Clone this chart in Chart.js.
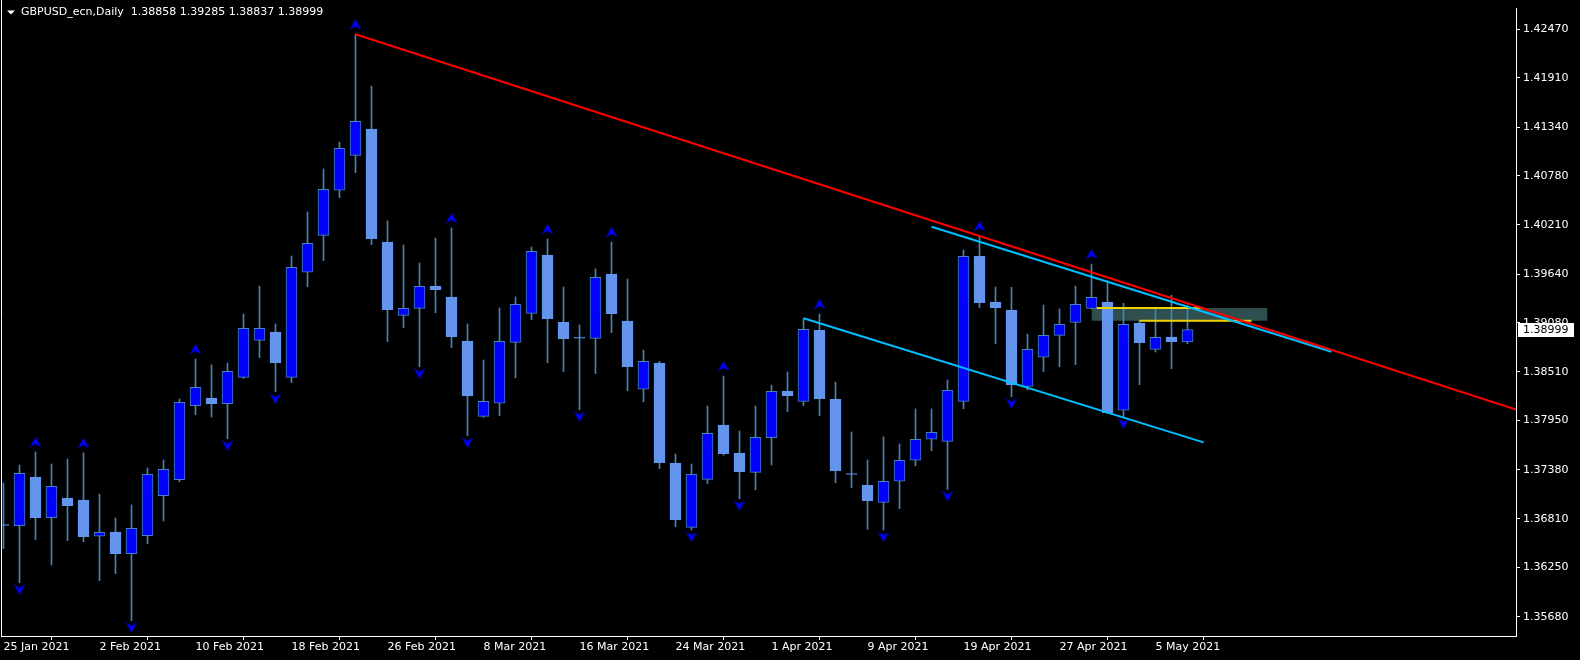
<!DOCTYPE html>
<html>
<head>
<meta charset="utf-8">
<title>GBPUSD_ecn,Daily</title>
<script src="https://cdn.jsdelivr.net/npm/chart.js@4.4.0/dist/chart.umd.min.js"></script>
<style>
  html, body { margin: 0; padding: 0; background: #000; }
  #wrap { width: 1580px; height: 660px; position: relative; }
</style>
</head>
<body>
<div id="wrap"><canvas id="myChart"></canvas></div>
<script>
const symbol = 'GBPUSD_ecn,Daily';

// daily bars, 25 Jan 2021 .. 7 May 2021
const opens = [
  1.36737, 1.36732, 1.37296, 1.36825, 1.37053, 1.37030, 1.36610, 1.36660, 1.36409, 1.36617,
  1.37079, 1.37264, 1.38120, 1.38209, 1.38145, 1.38448, 1.38876, 1.38972, 1.38448, 1.39663,
  1.40090, 1.40611, 1.41015, 1.41320, 1.40013, 1.39165, 1.39246, 1.39504, 1.39377, 1.38868,
  1.37997, 1.38148, 1.38853, 1.39188, 1.39863, 1.39084, 1.38905, 1.38899, 1.39643, 1.39099,
  1.38310, 1.38614, 1.37457, 1.36714, 1.37269, 1.37897, 1.37573, 1.37350, 1.37750, 1.38290,
  1.38171, 1.38992, 1.38194, 1.37329, 1.37200, 1.37003, 1.37246, 1.37489, 1.37732, 1.37708,
  1.38171, 1.39848, 1.39317, 1.39227, 1.38344, 1.38680, 1.38934, 1.39084, 1.39246, 1.39319,
  1.38067, 1.39076, 1.38772, 1.38914, 1.38858
];
const highs = [
  1.37226, 1.37434, 1.37585, 1.37446, 1.37504, 1.37573, 1.37099, 1.36822, 1.36972, 1.37400,
  1.37492, 1.38198, 1.38660, 1.38591, 1.38614, 1.39180, 1.39504, 1.39065, 1.39851, 1.40360,
  1.40857, 1.41169, 1.42415, 1.41817, 1.40256, 1.39978, 1.39770, 1.40059, 1.40175, 1.39065,
  1.38648, 1.39250, 1.39377, 1.39955, 1.40048, 1.39493, 1.39053, 1.39701, 1.40013, 1.39585,
  1.38764, 1.38633, 1.37562, 1.37446, 1.38117, 1.38463, 1.37827, 1.38117, 1.38359, 1.38510,
  1.39126, 1.39180, 1.38394, 1.37816, 1.37492, 1.37758, 1.37677, 1.38082, 1.38082, 1.38417,
  1.39920, 1.40082, 1.39493, 1.39489, 1.38949, 1.39284, 1.39238, 1.39504, 1.39758, 1.39565,
  1.39304, 1.39108, 1.39261, 1.39397, 1.39285
];
const lows = [
  1.36467, 1.36073, 1.36571, 1.36278, 1.36559, 1.36547, 1.36097, 1.36177, 1.35634, 1.36524,
  1.36787, 1.37241, 1.38016, 1.37989, 1.37738, 1.38435, 1.38675, 1.38282, 1.38386, 1.39496,
  1.39797, 1.40525, 1.40814, 1.39982, 1.38860, 1.39022, 1.38571, 1.39195, 1.38791, 1.37773,
  1.37986, 1.38004, 1.38444, 1.39114, 1.38617, 1.38513, 1.38074, 1.38490, 1.38964, 1.38293,
  1.38166, 1.37392, 1.36721, 1.36683, 1.37218, 1.37547, 1.37045, 1.37149, 1.37434, 1.38051,
  1.38120, 1.38004, 1.37230, 1.37172, 1.36691, 1.36683, 1.36929, 1.37426, 1.37600, 1.37153,
  1.38085, 1.39253, 1.38837, 1.38224, 1.38302, 1.38513, 1.38571, 1.38594, 1.39238, 1.38030,
  1.37993, 1.38363, 1.38741, 1.38548, 1.38837
];
const closes = [
  1.36735, 1.37338, 1.36825, 1.37188, 1.36964, 1.36605, 1.36656, 1.36409, 1.36702, 1.37327,
  1.37385, 1.38159, 1.38333, 1.38143, 1.38519, 1.39015, 1.39015, 1.38617, 1.39720, 1.39998,
  1.40622, 1.41096, 1.41409, 1.40051, 1.39230, 1.39246, 1.39501, 1.39461, 1.38918, 1.38232,
  1.38171, 1.38865, 1.39292, 1.39905, 1.39126, 1.38895, 1.38900, 1.39605, 1.39184, 1.38571,
  1.38633, 1.37461, 1.36802, 1.37327, 1.37801, 1.37565, 1.37357, 1.37755, 1.38286, 1.38236,
  1.39003, 1.38201, 1.37368, 1.37325, 1.37022, 1.37246, 1.37489, 1.37732, 1.37812, 1.38298,
  1.39848, 1.39311, 1.39253, 1.38359, 1.38772, 1.38934, 1.39061, 1.39292, 1.39373, 1.38039,
  1.39061, 1.38848, 1.38911, 1.38860, 1.38999
];

const xTickBars = [0, 6, 12, 18, 24, 30, 36, 42, 48, 54, 60, 66, 72];
const xTickLabels = ['25 Jan 2021', '2 Feb 2021', '10 Feb 2021', '18 Feb 2021', '26 Feb 2021',
  '8 Mar 2021', '16 Mar 2021', '24 Mar 2021', '1 Apr 2021', '9 Apr 2021', '19 Apr 2021',
  '27 Apr 2021', '5 May 2021'];
const yTickValues = [1.42470, 1.41910, 1.41340, 1.40780, 1.40210, 1.39640, 1.39080,
  1.38510, 1.37950, 1.37380, 1.36810, 1.36250, 1.35680];

const fractalUpBars = [2, 5, 12, 22, 28, 34, 38, 45, 51, 61, 68];
const fractalDownBars = [1, 8, 14, 17, 26, 29, 36, 43, 46, 55, 59, 63, 70];

// objects drawn on the chart (bar index, price)
const redLineBars = [22, 61];
const redLinePrices = [1.42415, 1.40082];
const cyanUpperBars = [58, 83];
const cyanUpperPrices = [1.40190, 1.38744];
const cyanLowerBars = [50, 75];
const cyanLowerPrices = [1.39131, 1.37696];
const zoneBars = [68, 79];
const zonePrices = [1.39250, 1.39103];
const yellowUpperBars = [68.33, 75];
const yellowLowerBars = [71, 78];

const xMin = -0.15625, xMax = 94.53125;
const yMin = 1.35457, yMax = 1.42719;

const bullColor = '#0000ff';
const bearColor = '#6495ed';
const wickColor = '#4682b4';

const last = closes.length - 1;

// ray: extend red line to the right edge
const redSlope = (redLinePrices[1] - redLinePrices[0]) / (redLineBars[1] - redLineBars[0]);
const redEnd = redLinePrices[0] + redSlope * (xMax - redLineBars[0]);

function arrowImage(up) {
  const c = document.createElement('canvas');
  c.width = 15; c.height = 40;
  const g = c.getContext('2d');
  const cx = 7.5, cy = up ? 10 : 27;
  g.beginPath();
  if (up) {
    g.moveTo(cx, cy - 5); g.lineTo(cx + 5.5, cy + 5); g.lineTo(cx, cy + 2); g.lineTo(cx - 5.5, cy + 5);
  } else {
    g.moveTo(cx, cy + 5); g.lineTo(cx + 5.5, cy - 5); g.lineTo(cx, cy - 2); g.lineTo(cx - 5.5, cy - 5);
  }
  g.closePath();
  g.fillStyle = '#0000ff';
  g.fill();
  g.strokeStyle = '#000080';
  g.lineWidth = 1;
  g.stroke();
  return c;
}
const upArrow = arrowImage(true);
const downArrow = arrowImage(false);

const isBull = i => closes[i] >= opens[i];

const lineDs = (bars, prices, color, width) => ({
  type: 'line',
  data: bars.map((b, k) => ({ x: b, y: prices[k] })),
  borderColor: color,
  borderWidth: width,
  pointRadius: 0,
  fill: false,
  order: 0
});

const data = {
  datasets: [
    lineDs(redLineBars.concat([xMax]), redLinePrices.concat([redEnd]), '#ff0000', 2),
    lineDs(cyanUpperBars, cyanUpperPrices, '#00bfff', 2),
    lineDs(cyanLowerBars, cyanLowerPrices, '#00bfff', 2),
    lineDs(yellowUpperBars, [zonePrices[0], zonePrices[0]], '#f0d400', 2),
    lineDs(yellowLowerBars, [zonePrices[1], zonePrices[1]], '#f0d400', 2),
    {
      type: 'scatter',
      data: fractalUpBars.map(i => ({ x: i, y: highs[i] })),
      pointStyle: upArrow,
      order: 1
    },
    {
      type: 'scatter',
      data: fractalDownBars.map(i => ({ x: i, y: lows[i] })),
      pointStyle: downArrow,
      order: 1
    },
    {
      type: 'bar',
      data: opens.map((o, i) => ({ x: i, y: [o, closes[i]] })),
      backgroundColor: c => isBull(c.dataIndex) ? bullColor : bearColor,
      borderColor: c => isBull(c.dataIndex) ? wickColor : bearColor,
      borderWidth: 1,
      borderSkipped: false,
      barThickness: 11,
      minBarLength: 1,
      grouped: false,
      clip: 0,
      order: 2
    },
    {
      type: 'bar',
      data: lows.map((l, i) => ({ x: i, y: [l, highs[i]] })),
      backgroundColor: wickColor,
      borderWidth: 0,
      barThickness: 1,
      grouped: false,
      clip: 0,
      order: 3
    },
    {
      type: 'line',
      data: zoneBars.map(b => ({ x: b, y: zonePrices[0] })),
      borderWidth: 0,
      pointRadius: 0,
      fill: false,
      order: 5
    },
    {
      type: 'line',
      data: zoneBars.map(b => ({ x: b, y: zonePrices[1] })),
      borderWidth: 0,
      pointRadius: 0,
      backgroundColor: '#2f4f4f',
      fill: '-1',
      order: 4
    }
  ]
};

const chartDecor = {
  id: 'chartDecor',
  afterDraw(chart) {
    const ctx = chart.ctx;
    const area = chart.chartArea;
    ctx.save();
    // left frame line
    ctx.strokeStyle = '#ffffff';
    ctx.lineWidth = 1;
    ctx.beginPath();
    ctx.moveTo(1.5, 0);
    ctx.lineTo(1.5, area.bottom + 0.5);
    ctx.stroke();

    // header
    ctx.fillStyle = '#ffffff';
    ctx.beginPath();
    ctx.moveTo(7, 10.5); ctx.lineTo(15, 10.5); ctx.lineTo(11, 14.5);
    ctx.closePath();
    ctx.fill();
    ctx.font = '11px "DejaVu Sans"';
    ctx.textBaseline = 'middle';
    ctx.textAlign = 'left';
    const f = v => v.toFixed(5);
    ctx.fillText(symbol + '  ' + f(opens[last]) + ' ' + f(highs[last]) + ' ' +
      f(lows[last]) + ' ' + f(closes[last]), 21, 12.5);

    // current price label
    const y = Math.round(chart.scales.y.getPixelForValue(closes[last]));
    ctx.fillStyle = '#ffffff';
    ctx.fillRect(area.right + 2, y - 7, 56, 14);
    ctx.fillStyle = '#000000';
    ctx.fillText(f(closes[last]), area.right + 7, y + 0.5);
    ctx.restore();
  }
};

const config = {
  type: 'bar',
  data: data,
  options: {
    responsive: true,
    maintainAspectRatio: false,
    animation: false,
    events: [],
    layout: { autoPadding: false, padding: { left: 1, top: 8, right: 0, bottom: 0 } },
    plugins: {
      legend: { display: false },
      tooltip: { enabled: false },
      title: { display: false }
    },
    scales: {
      x: {
        type: 'linear',
        min: xMin,
        max: xMax,
        offset: false,
        grid: { display: true, drawOnChartArea: false, drawTicks: true, tickLength: 4, color: '#ffffff' },
        border: { display: true, color: '#ffffff' },
        afterBuildTicks: s => { s.ticks = xTickBars.map(v => ({ value: v })); },
        afterFit: s => { s.height = 24; s.paddingLeft = 0; s.paddingRight = 0; },
        ticks: {
          autoSkip: false,
          maxRotation: 0,
          align: 'start',
          padding: 1,
          color: '#ffffff',
          font: { family: 'DejaVu Sans', size: 11 },
          callback: v => xTickLabels[xTickBars.indexOf(v)]
        }
      },
      y: {
        type: 'linear',
        position: 'right',
        min: yMin,
        max: yMax,
        grid: { display: true, drawOnChartArea: false, drawTicks: true, tickLength: 4, color: '#ffffff' },
        border: { display: true, color: '#ffffff' },
        afterBuildTicks: s => { s.ticks = yTickValues.map(v => ({ value: v })); },
        afterFit: s => { s.width = 64; s.paddingTop = 0; s.paddingBottom = 0; },
        ticks: {
          autoSkip: false,
          padding: 3,
          color: '#ffffff',
          font: { family: 'DejaVu Sans', size: 11 },
          callback: v => v.toFixed(5)
        }
      }
    }
  },
  plugins: [chartDecor]
};

const ctx = document.getElementById('myChart');
let chart = new Chart(ctx, config);
</script>
</body>
</html>
